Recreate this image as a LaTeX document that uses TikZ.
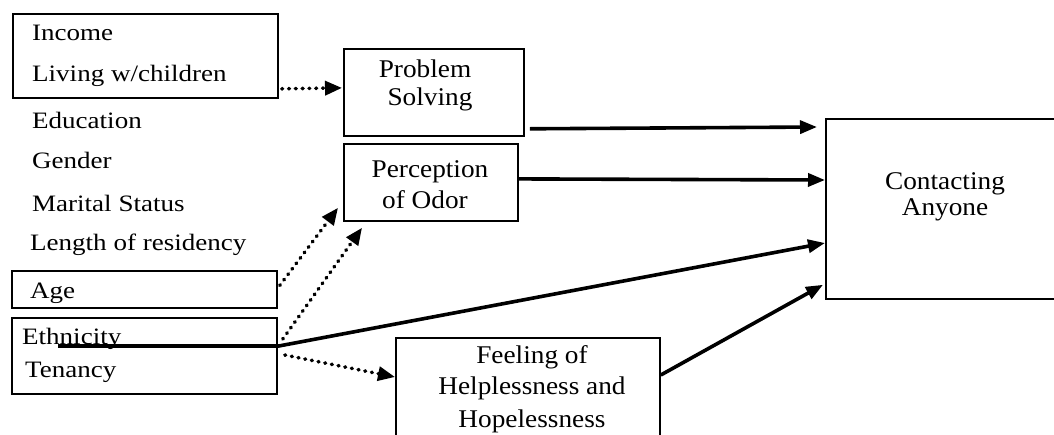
\documentclass[tikz,border=0pt]{standalone}
\usepackage{fontspec}
\setmainfont{Liberation Serif}
\newfontfamily\colfont{Liberation Serif}[FakeStretch=1.15]
\newfontfamily\boxfont{Liberation Serif}[FakeStretch=1.07]
\usetikzlibrary{arrows.meta,calc}

\begin{document}
\begin{tikzpicture}[x=1pt,y=-1pt,
  box/.style={draw, line width=1.8pt, inner sep=0pt, anchor=north west},
  coltext/.style={anchor=base west, inner sep=0pt, font=\colfont\fontsize{23.5}{28}\selectfont},
  boxtext/.style={anchor=base, inner sep=0pt, font=\boxfont\fontsize{25.5}{30}\selectfont},
  solidarrow/.style={line width=3.6pt, -{Triangle[length=17pt,width=13pt]}},
  dotarrow/.style={line width=3.6pt, line cap=round, dash pattern=on 0.8pt off 6pt,
    -{Triangle[length=17pt,width=14pt]}},
]
\useasboundingbox (0,0) rectangle (1054,434);
\clip (0,0) rectangle (1054,434);

% boxes
\node[box, minimum width=265pt, minimum height=84pt] (topbox) at (12,13) {};
\node[box, minimum width=265pt, minimum height=37pt] (agebox) at (11,270) {};
\node[box, minimum width=265pt, minimum height=76pt] (ethbox) at (11,317) {};
\node[box, minimum width=180pt, minimum height=87pt] (ps) at (343,48) {};
\node[box, minimum width=174pt, minimum height=77pt] (po) at (343,143) {};
\node[box, minimum width=260pt, minimum height=180pt] (ca) at (825,118) {};
\node[box, minimum width=264pt, minimum height=120pt] (fh) at (395,337) {};

% left column of variables
\node[coltext] (income) at (32,40) {Income};
\node[coltext] (living) at (32,81) {Living w/children};
\node[coltext] (edu) at (32,128) {Education};
\node[coltext] (gender) at (32,168) {Gender};
\node[coltext] (marital) at (32,211) {Marital Status};
\node[coltext] (length) at (30,250) {Length of residency};
\node[coltext] (age) at (30,298) {Age};
\node[coltext] (eth) at (22,344) {Ethnicity};
\node[coltext] (ten) at (25,377) {Tenancy};

% box labels
\node[boxtext] (ps1) at (425,77) {Problem};
\node[boxtext] (ps2) at (430,105) {Solving};
\node[boxtext] (po1) at (430,177) {Perception};
\node[boxtext] (po2) at (425,208) {of Odor};
\node[boxtext] (ca1) at (945,189) {Contacting};
\node[boxtext] (ca2) at (945,215) {Anyone};
\node[boxtext] (fh1) at (532,363) {Feeling of};
\node[boxtext] (fh2) at (532,394) {Helplessness and};
\node[boxtext] (fh3) at (532,427) {Hopelessness};

% connectors
\coordinate (j) at ($(ethbox.north east)+(1,29)$);
\coordinate (hs) at ($(ethbox.north west)+(47,29)$);

\draw[dotarrow] ($(topbox.south east)+(3,-10)$) -- ($(ps.west)+(-1,-4.5)$);
\draw[solidarrow] ($(ps.south east)+(5,-8)$) -- ($(ca.north west)+(-8,9)$);
\draw[solidarrow] ($(po.east)+(0,-3.5)$) -- ($(ca.north west)+(0,62)$);
\draw[solidarrow] (hs) -- (j) -- ($(ca.north west)+(0,125)$);
\draw[solidarrow] ($(fh.north east)+(0,38)$) -- ($(ca.south west)+(-2,-15)$);
\draw[dotarrow] ($(agebox.east)+(2,-4)$) -- ($(po.south west)+(-5,-14)$);
\draw[dotarrow] ($(j)+(4,-7)$) -- ($(po.south west)+(19,6)$);
\draw[dotarrow] ($(j)+(6,9)$) -- ($(fh.north west)+(0,40)$);
\end{tikzpicture}
\end{document}
